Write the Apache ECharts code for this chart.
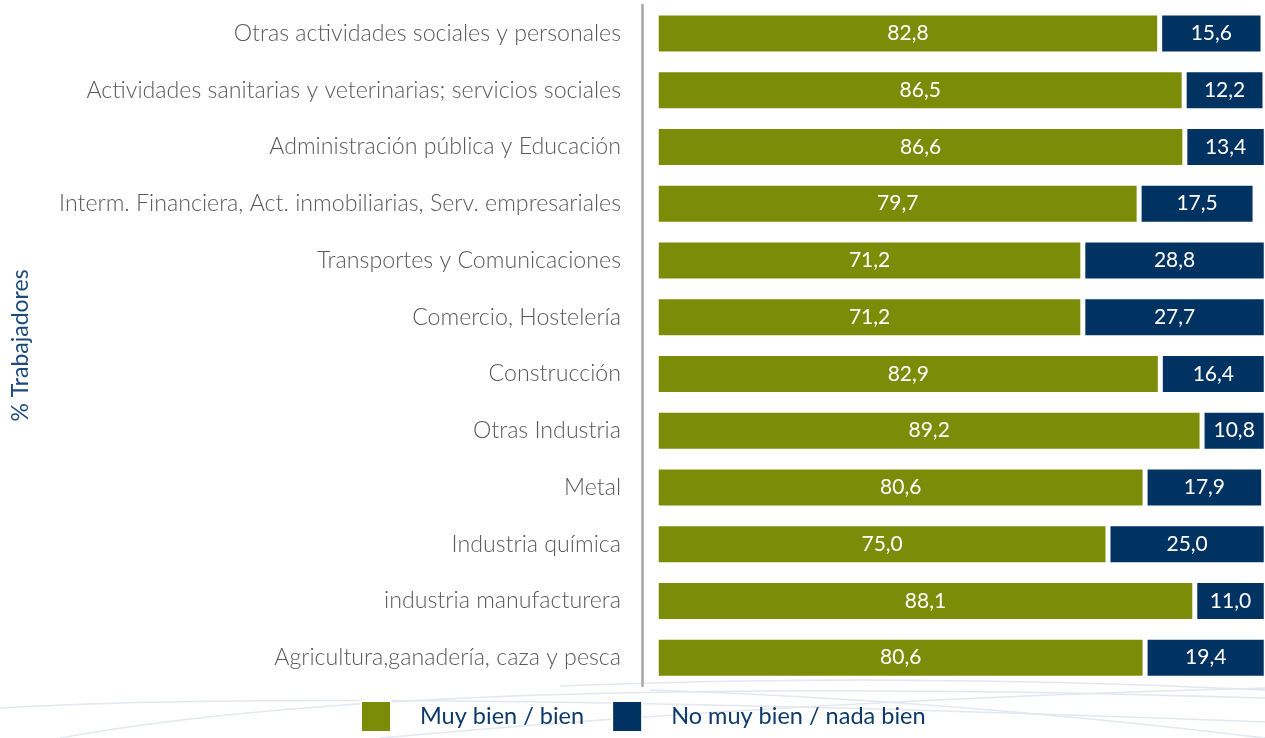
<!DOCTYPE html>
<html>
<head>
<meta charset="utf-8">
<script src="https://cdn.jsdelivr.net/npm/echarts@6/dist/echarts.min.js"></script>
<style>
  html, body { margin: 0; padding: 0; background: #fff; }
  #chart { width: 1265px; height: 738px; }
</style>
</head>
<body>
<div id="chart"></div>
<script>
// sectors, top to bottom
const sectors = [
    'Otras actividades sociales y personales',
    'Actividades sanitarias y veterinarias; servicios sociales',
    'Administración pública y Educación',
    'Interm. Financiera, Act. inmobiliarias, Serv. empresariales',
    'Transportes y Comunicaciones',
    'Comercio, Hostelería',
    'Construcción',
    'Otras Industria',
    'Metal',
    'Industria química',
    'industria manufacturera',
    'Agricultura,ganadería, caza y pesca'
];
const muyBien = [82.8, 86.5, 86.6, 79.7, 71.2, 71.2, 82.9, 89.2, 80.6, 75.0, 88.1, 80.6];
const noMuyBien = [15.6, 12.2, 13.4, 17.5, 28.8, 27.7, 16.4, 10.8, 17.9, 25.0, 11.0, 19.4];
const seriesNames = ['Muy bien / bien', 'No muy bien / nada bien'];

const GREEN = '#7a8c08';
const NAVY = '#003262';
const FONT = 'Lato';

const chart = echarts.init(document.getElementById('chart'));

function fmt(p) {
    return p.value.toFixed(1).replace('.', ',');
}

function barSeries(name, data, color) {
    return {
        name: name,
        type: 'bar',
        stack: 'total',
        data: data,
        barWidth: 41,
        // white border leaves the small gap between the two parts
        itemStyle: { color: color, borderColor: '#fff', borderWidth: 2.5 },
        label: {
            show: true,
            position: 'inside',
            color: '#fff',
            fontFamily: FONT,
            fontSize: 21,
            formatter: fmt
        }
    };
}

// faint background swooshes (decoration only)
function swoosh(x1, y1, cx, cy, x2, y2) {
    return {
        type: 'bezierCurve',
        silent: true,
        z: -10,
        shape: { x1: x1, y1: y1, cpx1: cx, cpy1: cy, x2: x2, y2: y2 },
        style: { stroke: '#e3e7ef', lineWidth: 1.5, fill: null }
    };
}

chart.setOption({
    animation: false,
    backgroundColor: '#fff',
    textStyle: { fontFamily: FONT },
    graphic: [
        swoosh(0, 708, 350, 688, 1265, 722),
        swoosh(60, 738, 420, 672, 1265, 698),
        swoosh(560, 686, 900, 672, 1265, 690),
        swoosh(380, 738, 800, 700, 1265, 688),
        swoosh(650, 690, 950, 700, 1265, 738)
    ],
    grid: { left: 657.5, right: 0, top: 5, bottom: 52, containLabel: false },
    xAxis: {
        type: 'value',
        min: 7,
        max: 98.7, // the original picture is cut off just short of 100
        show: false
    },
    yAxis: {
        type: 'category',
        data: sectors,
        inverse: true,
        offset: 15.5,
        axisLine: { show: true, lineStyle: { color: '#a6a6a6', width: 2.5 } },
        axisTick: { show: false },
        axisLabel: {
            color: '#595959', fontSize: 23.2, fontWeight: 300, fontFamily: FONT,
            margin: 21
        },
        name: '% Trabajadores',
        nameLocation: 'middle',
        nameGap: 610,
        nameRotate: 90,
        nameTextStyle: { color: '#1d4a7c', fontSize: 23, fontFamily: FONT }
    },
    legend: {
        bottom: 0,
        left: 355,
        icon: 'rect',
        itemWidth: 30,
        itemHeight: 31,
        itemGap: 27,
        textStyle: { color: '#0d3a6b', fontSize: 23.5, fontFamily: FONT, padding: [0, 0, 0, 24] },
        data: seriesNames
    },
    series: [
        barSeries(seriesNames[0], muyBien, GREEN),
        barSeries(seriesNames[1], noMuyBien, NAVY)
    ]
});
</script>
</body>
</html>
